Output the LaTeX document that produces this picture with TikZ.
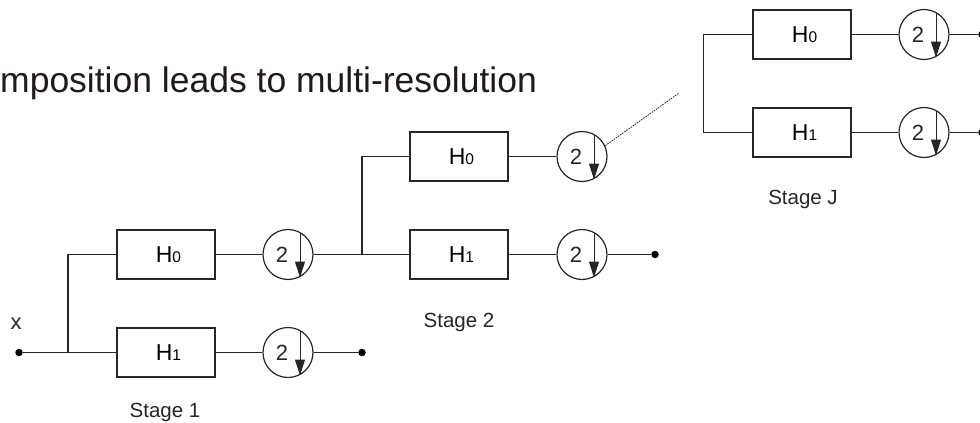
\documentclass[tikz,border=0pt]{standalone}
\usepackage{fontspec}
\setmainfont{Liberation Sans}
\usetikzlibrary{arrows.meta}
\tikzset{
  wire/.style={line width=1.2pt, draw=black!85},
  filt/.style={draw=black!85, line width=1.2pt, minimum width=98pt, minimum height=49pt, inner sep=0pt, font=\fontsize{23}{23}\selectfont},
  dsamp/.style={circle, draw=black!85, line width=1.2pt, minimum size=50pt, inner sep=0pt},
  tdot/.style={circle, fill=black, minimum size=7.5pt, inner sep=0pt},
  lbl/.style={font=\fontsize{20.5}{20.5}\selectfont, inner sep=0pt, text=black!85},
}
\newcommand{\Hsub}[1]{\hspace*{5pt}H{\fontsize{15.5}{15.5}\selectfont #1}}
\newcommand{\dsmark}[1]{%
  \node[font=\fontsize{22}{22}\selectfont, inner sep=0pt, text=black!85] at ([xshift=-6pt]#1.center) {2};
  \draw[line width=1pt, draw=black!85, -{Triangle[length=16pt,width=10pt]}] ([xshift=12pt,yshift=22pt]#1.center) -- ([xshift=12pt,yshift=-23pt]#1.center);
}
\begin{document}
\begin{tikzpicture}[x=1pt,y=-1pt]
\useasboundingbox (0,0) rectangle (980,423);
% title
\node[anchor=base west, inner sep=0pt, font=\fontsize{35.5}{35.5}\selectfont, text={rgb,255:red,35;green,25;blue,25}] (title) at (0,92) {mposition leads to multi-resolution};
% Stage 1
\node[tdot] (in) at (19,352.5) {};
\coordinate (j1) at (68,352.5);
\node[filt] (a0) at (166,254.5) {\Hsub{0}};
\node[filt] (a1) at (166,352.5) {\Hsub{1}};
\node[dsamp] (c10) at (288,254.5) {};
\node[dsamp] (c11) at (288,352.5) {};
\node[tdot] (o1) at (362,352.5) {};
\draw[wire] (in) -- (j1) -- (a1.west);
\draw[wire] (j1) |- (a0.west);
\draw[wire] (a0) -- (c10);
\draw[wire] (a1) -- (c11);
\draw[wire] (c11) -- (o1);
\dsmark{c10}
\dsmark{c11}
\node[font=\fontsize{22}{22}\selectfont, inner sep=0pt, text=black!85] (xl) at (16,324) {x};
\node[lbl] (s1) at (165,412) {Stage 1};
% Stage 2
\coordinate (j2) at (362,254.5);
\node[filt] (b0) at (459,156.5) {\Hsub{0}};
\node[filt] (b1) at (459,254.5) {\Hsub{1}};
\node[dsamp] (c20) at (582,156.5) {};
\node[dsamp] (c21) at (582,254.5) {};
\node[tdot] (o2) at (655,254.5) {};
\draw[wire] (c10) -- (j2) -- (b1.west);
\draw[wire] (j2) |- (b0.west);
\draw[wire] (b0) -- (c20);
\draw[wire] (b1) -- (c21);
\draw[wire] (c21) -- (o2);
\dsmark{c20}
\dsmark{c21}
\node[lbl] (s2) at (459,322) {Stage 2};
\coordinate (dz) at (679,93);
\draw[line width=0.8pt, dash pattern=on 1.6pt off 1pt, draw=black!85] (c20.25) -- (dz);
% Stage J
\node[filt] (d0) at (802,34.5) {\Hsub{0}};
\node[filt] (d1) at (802,132.5) {\Hsub{1}};
\draw[wire] (d0.west) -- ++(-49,0) |- (d1.west);
\node[dsamp] (cJ0) at (924,34.5) {};
\node[dsamp] (cJ1) at (924,132.5) {};
\node[tdot] (oJ0) at (982,34.5) {};
\node[tdot] (oJ1) at (982,132.5) {};
\draw[wire] (d0) -- (cJ0);
\draw[wire] (d1) -- (cJ1);
\draw[wire] (cJ0) -- (oJ0);
\draw[wire] (cJ1) -- (oJ1);
\dsmark{cJ0}
\dsmark{cJ1}
\node[lbl] (sJ) at (803,199) {Stage J};
\end{tikzpicture}
\end{document}
